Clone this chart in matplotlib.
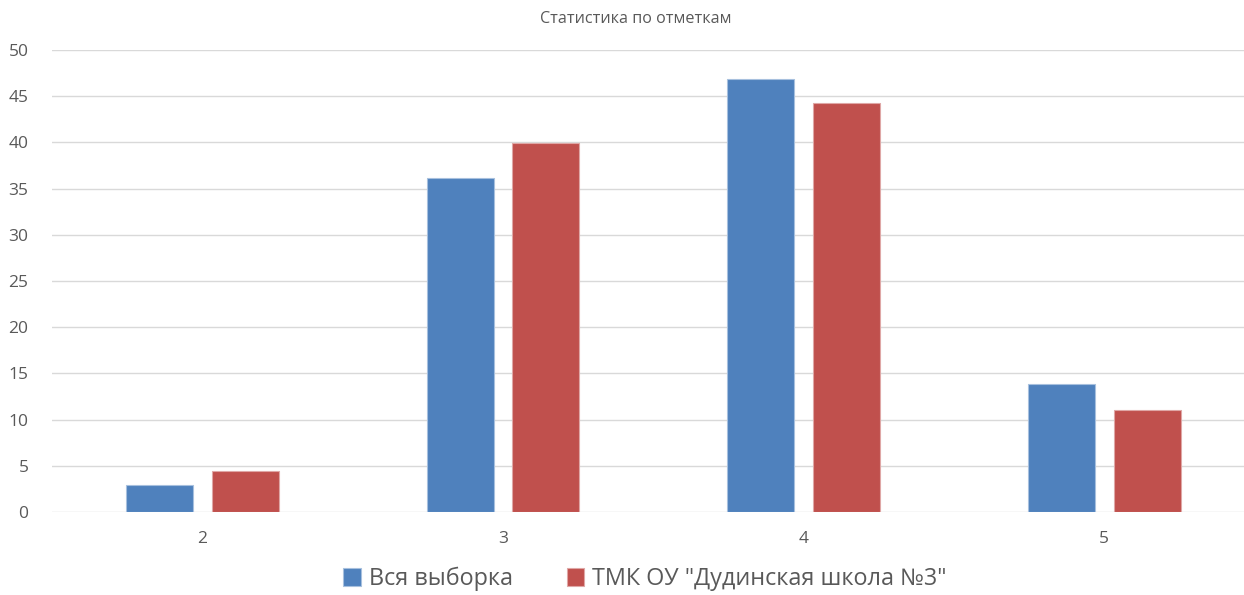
import matplotlib
matplotlib.use("Agg")
import matplotlib.pyplot as plt
import numpy as np

# данные диаграммы
otmetki = ["2", "3", "4", "5"]
vsya_vyborka = [2.9, 36.2, 46.9, 13.8]
shkola = [4.4, 39.9, 44.3, 11.0]
y_ticks = [0, 5, 10, 15, 20, 25, 30, 35, 40, 45, 50]

plt.rcParams["font.family"] = ["Open Sans", "DejaVu Sans"]

fig = plt.figure(figsize=(12.44, 5.95), dpi=100)
ax = fig.add_axes([52 / 1244, 1 - 512 / 595, 1 - 52 / 1244, (512 - 50) / 595])

x = np.arange(len(otmetki))
w = 0.223
off = 0.1425
ax.bar(x - off, vsya_vyborka, w, color="#4F81BD", edgecolor="#A7C0DE",
       linewidth=0.8, label="Вся выборка", zorder=3)
ax.bar(x + off, shkola, w, color="#C0504D", edgecolor="#DFA7A6",
       linewidth=0.8, label='ТМК ОУ "Дудинская школа №3"', zorder=3)

ax.set_xlim(-0.5, 3.465)
ax.set_ylim(0, 50)
ax.set_yticks(y_ticks)
ax.set_xticks(x)
ax.set_xticklabels(otmetki)
ax.grid(axis="y", color="#D9D9D9", linewidth=1.0, zorder=0)
for s in ax.spines.values():
    s.set_visible(False)
ax.tick_params(length=0, colors="#595959", labelsize=12.5)
ax.tick_params(axis="y", pad=17)
ax.tick_params(axis="x", pad=14)

fig.text(636 / 1244, 1 - 19 / 595, "Статистика по отметкам", ha="center", va="center",
         fontsize=11.6, color="#595959")

leg = fig.legend(loc="center", bbox_to_anchor=(645 / 1244, 1 - 579 / 595), ncol=2,
                 frameon=False, fontsize=16.8, handlelength=0.75, handleheight=0.75,
                 handletextpad=0.35, columnspacing=2.3)
for t in leg.get_texts():
    t.set_color("#595959")

fig.savefig("out.png", dpi=100)
